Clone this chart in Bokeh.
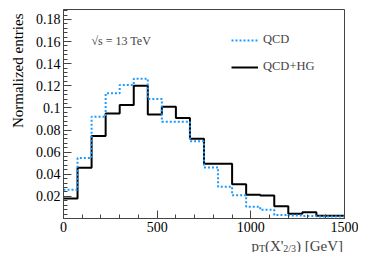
import math
from bokeh.plotting import figure
from bokeh.layouts import column
from bokeh.models import (FixedTicker, CustomJSTickFormatter, Label, Legend,
                          LegendItem, Range1d, Title)
from bokeh.embed import file_html
from bokeh.resources import INLINE

# ---- data ----
bin_edges = [0, 75, 150, 225, 300, 375, 450, 525, 600, 675, 750, 825, 900,
             975, 1050, 1125, 1200, 1275, 1350, 1425, 1500]
qcd = [0.026, 0.0546, 0.092, 0.1133, 0.1207, 0.1263, 0.108, 0.0876, 0.0876,
       0.0698, 0.0462, 0.0288, 0.021, 0.0107, 0.0078, 0.0032, 0.0026, 0.0022,
       0.0018, 0.0018]
qcd_hg = [0.018, 0.046, 0.0745, 0.095, 0.1026, 0.120, 0.094, 0.101, 0.0908,
          0.0722, 0.0496, 0.0496, 0.031, 0.0215, 0.0208, 0.011, 0.0042, 0.0056,
          0.0025, 0.0025]
x_ticks = [0, 500, 1000, 1500]
x_minor = list(range(0, 1501, 100))
y_ticks = [0.02, 0.04, 0.06, 0.08, 0.1, 0.12, 0.14, 0.16, 0.18]
y_minor = [round(i * 0.004, 3) for i in range(48)]
series_labels = ["QCD", "QCD+HG"]
y_title = "Normalized entries"
energy_text = "\u221as = 13 TeV"

FONT = "Liberation Serif"
BLUE = "#1e9bff"
AXC = "#444444"

MAIN_H = 236
XT_H = 16
BL, BR = 60, 14

# ---- main plot ----
p = figure(width=358, height=MAIN_H, output_backend="svg",
           toolbar_location=None, x_range=Range1d(0, 1500),
           y_range=Range1d(0, 0.189), min_border_left=BL,
           min_border_right=BR, min_border_top=9, min_border_bottom=18)
p.grid.visible = False
p.background_fill_color = "white"
p.border_fill_color = "white"
p.outline_line_color = AXC
p.outline_line_width = 1

r_hg = p.step(bin_edges, qcd_hg + [qcd_hg[-1]], mode="after",
              line_color="black", line_width=2)
r_qcd = p.step(bin_edges, qcd + [qcd[-1]], mode="after",
               line_color=BLUE, line_width=2, line_dash="2 2")

fmt = CustomJSTickFormatter(code="return String(Number(tick.toFixed(3)));")

for ax in (p.xaxis[0], p.yaxis[0]):
    ax.axis_line_color = AXC
    ax.major_tick_line_color = AXC
    ax.minor_tick_line_color = AXC
    ax.major_tick_in = 8
    ax.major_tick_out = 0
    ax.minor_tick_in = 4
    ax.minor_tick_out = 0
    ax.major_label_text_font = FONT
    ax.major_label_text_font_size = "14px"
    ax.major_label_text_color = "black"
    ax.major_label_standoff = 3
    ax.formatter = fmt

p.xaxis.ticker = FixedTicker(ticks=x_ticks, minor_ticks=x_minor)
p.yaxis.ticker = FixedTicker(ticks=y_ticks, minor_ticks=y_minor)

# y-axis title as a left-side title, aligned to the top like ROOT
p.add_layout(Title(text=y_title, align="right", text_font=FONT,
                   text_font_size="15px", text_font_style="normal",
                   text_color="black", standoff=14, offset=4), "left")

# Legend (location is relative to the frame's bottom-left corner)
legend = Legend(items=[LegendItem(label=series_labels[0], renderers=[r_qcd]),
                       LegendItem(label=series_labels[1], renderers=[r_hg])],
                location=(168, 144), padding=0, margin=0, spacing=12,
                glyph_width=27, glyph_height=14, label_height=14,
                label_standoff=5, border_line_color=None,
                background_fill_alpha=0, label_text_font=FONT,
                label_text_font_size="12.5px")
p.add_layout(legend)

p.add_layout(Label(x=28, y=178, x_units="screen", y_units="screen",
                   text=energy_text, text_font=FONT,
                   text_font_size="12px", text_baseline="middle"))

# ---- bottom strip: x-axis title p_T(X'_{2/3}) [GeV] ----
# same side borders as the main plot, so its frame lines up with it and
# its x coordinates equal the picture's pixel columns
q = figure(width=358, height=XT_H, output_backend="svg",
           toolbar_location=None, x_range=Range1d(BL, 358 - BR),
           y_range=Range1d(0, XT_H), x_axis_location=None,
           y_axis_location=None, min_border_left=BL, min_border_right=BR,
           min_border_top=0, min_border_bottom=0)
q.outline_line_color = None
q.grid.visible = False
q.background_fill_color = "white"
q.border_fill_color = "white"

pieces = [("p", 250.0, 6.5, "15px"), ("T", 257.5, 4.0, "10px"),
          ("(X'", 263.6, 6.5, "15px"), ("2/3", 282.1, 4.0, "10px"),
          (") [GeV]", 294.9, 6.5, "15px")]
for txt, xs, yb, fs in pieces:
    q.add_layout(Label(x=xs, y=yb, text=txt, text_font=FONT,
                       text_font_size=fs, text_baseline="alphabetic",
                       text_align="left"))

layout = column(p, q, spacing=0)
open("out.html", "w").write(file_html(layout, INLINE))
